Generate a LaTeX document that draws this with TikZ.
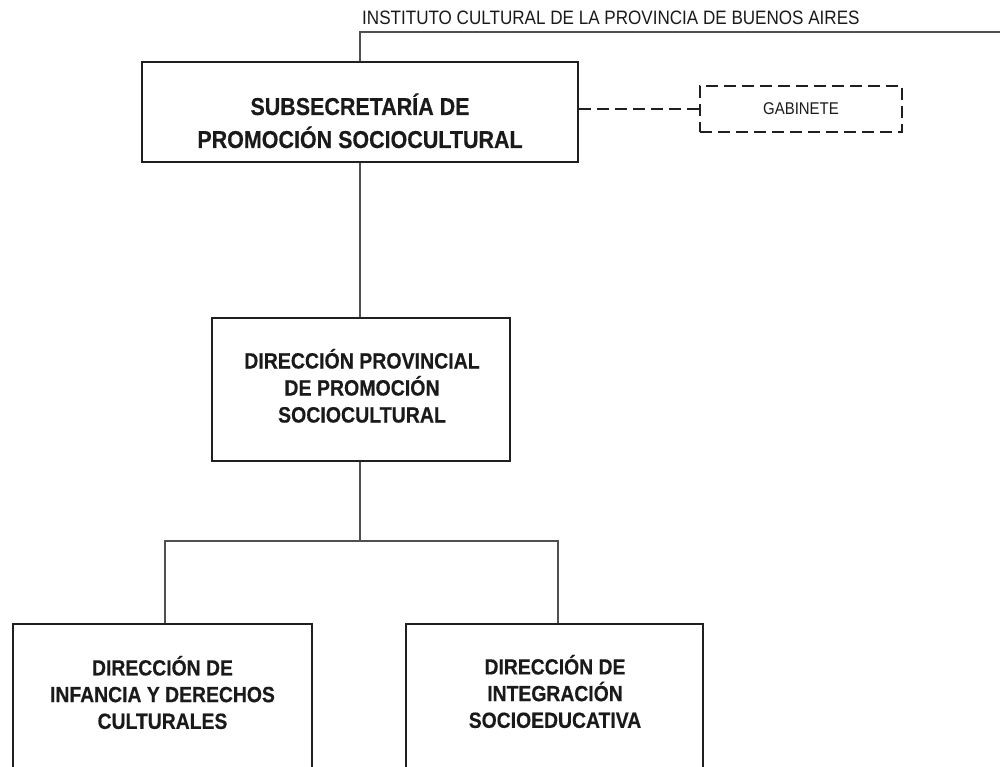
\documentclass[tikz,border=0pt]{standalone}
\usepackage{fontspec}
\setmainfont{Liberation Sans}[FakeStretch=0.88, BoldFeatures={FakeBold=0.4}]
\definecolor{boxcol}{HTML}{202020}
\definecolor{linecol}{HTML}{505050}
\definecolor{txtcol}{HTML}{1A1A1A}
\begin{document}
\begin{tikzpicture}[x=1pt,y=-1pt,
  box/.style={draw=boxcol, line width=2.4pt, rectangle, inner sep=0pt},
  conn/.style={draw=linecol, line width=1.4pt},
  dashline/.style={draw=boxcol, line width=2.4pt, dash pattern=on 12pt off 6pt},
  dashbox/.style={dashline, rectangle, inner sep=0pt, text=txtcol,
    font=\fontsize{17}{20}\selectfont},
  lbl/.style={align=center, inner sep=0pt, text=txtcol},
  toplbl/.style={inner sep=0pt, text=txtcol, font=\fontsize{19.4}{22}\selectfont}
]
\useasboundingbox (0,0) rectangle (1000,766);
\clip (0,0) rectangle (1000,766);

% boxes
\node[box, minimum width=436pt, minimum height=100pt] (subsec) at (360,112) {};
\node[box, minimum width=298pt, minimum height=143pt] (prov) at (361,389.5) {};
\node[box, minimum width=299pt, minimum height=200pt] (inf) at (162.5,724) {};
\node[box, minimum width=297pt, minimum height=200pt] (integ) at (554.5,724) {};
\node[dashbox, minimum width=202pt, minimum height=46pt] (gab) at (801,109) {GABINETE};

% texts
\node[toplbl, anchor=base west] (inst) at (362,24.5)
  {INSTITUTO CULTURAL DE LA PROVINCIA DE BUENOS AIRES};
\node[lbl, font=\bfseries\fontsize{24.4}{33}\selectfont] (subsect) at (360,120.8)
  {SUBSECRETARÍA DE\\PROMOCIÓN SOCIOCULTURAL};
\node[lbl, font=\bfseries\fontsize{22.2}{27}\selectfont] (provt) at (362,385.8)
  {DIRECCIÓN PROVINCIAL\\DE PROMOCIÓN\\SOCIOCULTURAL};
\node[lbl, font=\bfseries\fontsize{22}{26.7}\selectfont] (inft) at (162.5,692.5)
  {DIRECCIÓN DE\\INFANCIA Y DERECHOS\\CULTURALES};
\node[lbl, font=\bfseries\fontsize{22}{26.7}\selectfont] (integt) at (555,691.5)
  {DIRECCIÓN DE\\INTEGRACIÓN\\SOCIOEDUCATIVA};

% connectors
\coordinate (topend) at (1000,32);
\coordinate (bus) at (360,541);
\coordinate (busl) at (165,541);
\coordinate (busr) at (558,541);
\draw[conn] (subsec.north) |- (topend);
\draw[conn] (subsec.south) -- (subsec.south |- prov.north);
\draw[conn] (bus |- prov.south) -- (bus);
\draw[conn] (busl |- inf.north) -- (busl) -- (busr) -- (busr |- integ.north);
\draw[dashline] (subsec.east |- gab.west) -- (gab.west);
\end{tikzpicture}
\end{document}
